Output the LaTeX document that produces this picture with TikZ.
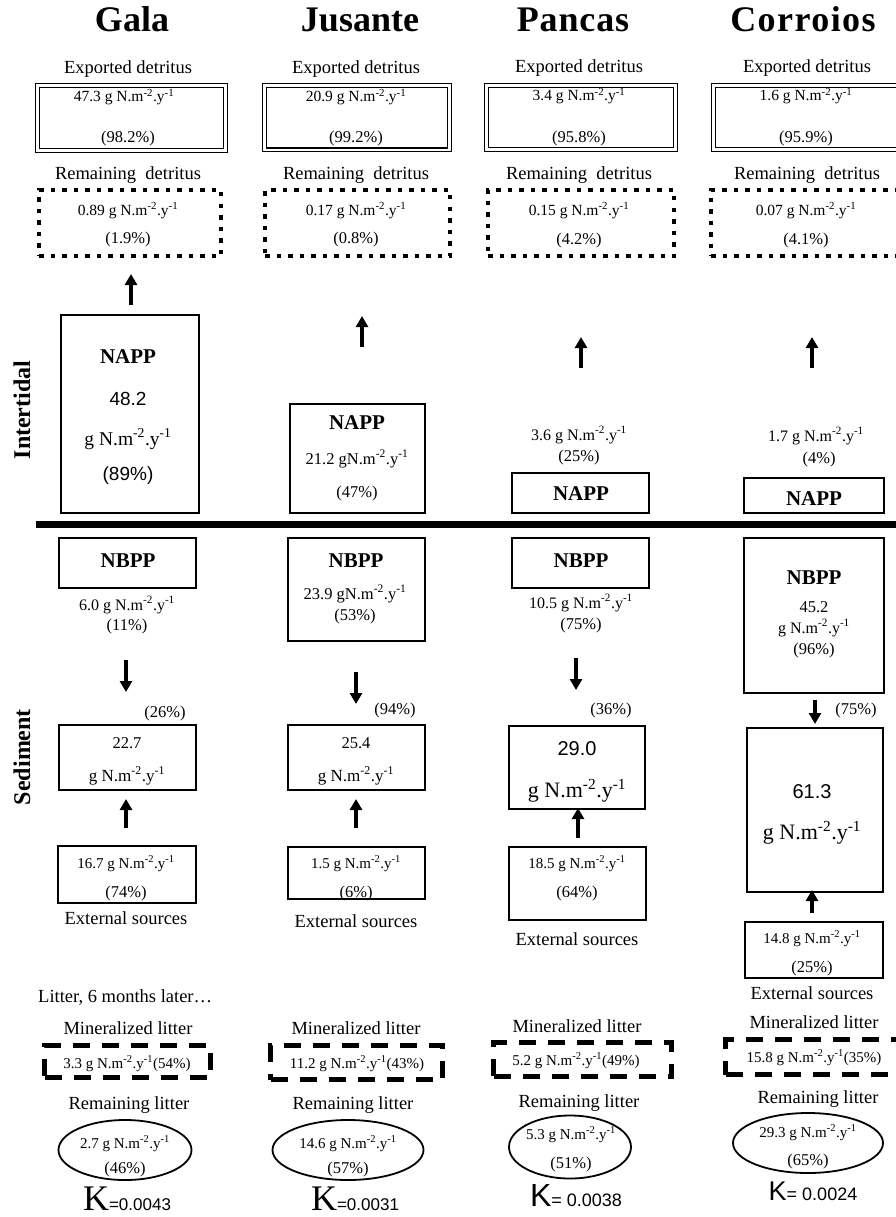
\documentclass[tikz,border=0pt]{standalone}
\usepackage{fontspec}
\setmainfont{Liberation Serif}
\newfontfamily\arialf{Liberation Sans}
\usetikzlibrary{arrows.meta,shapes.geometric}
\newcommand{\fsz}[1]{\fontsize{#1}{#1}\selectfont}
\newcommand{\gN}{g N.m\textsuperscript{-2}.y\textsuperscript{-1}}
\newcommand{\gNc}{gN.m\textsuperscript{-2}.y\textsuperscript{-1}}
\newcommand{\bx}[6]{\node[#6, minimum width={(#4-#2)*1pt}, minimum height={(#5-#3)*1pt}] (#1) at ({(#2+#4)/2},{(#3+#5)/2}) {};}
\tikzset{
  t/.style={anchor=base, inner sep=0pt, font=\fsz{15.5}},
  lab/.style={t, font=\fsz{18.5}},
  pct/.style={t, font=\fsz{16.5}},
  ttl/.style={t, font=\bfseries\fsz{36}},
  bnm/.style={t, font=\bfseries\fsz{21}},
  side/.style={inner sep=0pt, rotate=90, font=\bfseries\fsz{24}},
  plainbox/.style={draw, line width=1.3pt, inner sep=0pt},
  dblbox/.style={draw, line width=1.2pt, double, double distance=2.6pt, inner sep=0pt},
  dotbox/.style={draw, line width=4.5pt, dash pattern=on 4.5pt off 7pt, inner sep=0pt},
  dashbox/.style={draw, line width=5pt, dash pattern=on 17pt off 12pt, inner sep=0pt},
  ellbox/.style={draw, ellipse, line width=1.8pt, inner sep=0pt},
  arr/.style={line width=3.2pt, -{Triangle[width=12pt,length=11pt]}},
}
\begin{document}
\begin{tikzpicture}[x=1pt,y=-1pt]
\useasboundingbox (0,0) rectangle (896,1217);
\clip (0,0) rectangle (896,1217);
\fill[white] (0,0) rectangle (896,1217);

% ---------- titles ----------
\node[ttl] (ga-ttl) at (132,32) {Gala};
\node[ttl] (ju-ttl) at (360,32) {Jusante};
\node[ttl] (pa-ttl) at (573,32) {\addfontfeature{LetterSpace=2.5}Pancas};
\node[ttl] (co-ttl) at (803,32) {\addfontfeature{LetterSpace=4}Corroios};

% ---------- exported detritus ----------
\node[lab] (ga-exl) at (128,74) {Exported detritus};
\node[lab] (ju-exl) at (356,74) {Exported detritus};
\node[lab] (pa-exl) at (579,73) {Exported detritus};
\node[lab] (co-exl) at (807,73) {Exported detritus};
\bx{ga-ex}{37.5}{85.5}{225.5}{150.5}{dblbox}
\bx{ju-ex}{264.5}{85.5}{449.5}{150}{dblbox}
\bx{pa-ex}{486.5}{85.5}{675.5}{149.5}{dblbox}
\bx{co-ex}{713.5}{85.5}{910}{149.5}{dblbox}
\node[t] (ga-exv) at (124,102) {47.3 \gN};
\node[t] (ju-exv) at (356,102) {20.9 \gN};
\node[t] (pa-exv) at (579,101) {3.4 \gN};
\node[t] (co-exv) at (806,101) {1.6 \gN};
\node[pct] (ga-exp) at (128,143) {(98.2\%)};
\node[pct] (ju-exp) at (356,143) {(99.2\%)};
\node[pct] (pa-exp) at (579,143) {(95.8\%)};
\node[pct] (co-exp) at (806,143) {(95.9\%)};

% ---------- remaining detritus ----------
\node[lab] (ga-rdl) at (128,180) {Remaining\ \ detritus};
\node[lab] (ju-rdl) at (356,180) {Remaining\ \ detritus};
\node[lab] (pa-rdl) at (579,180) {Remaining\ \ detritus};
\node[lab] (co-rdl) at (807,180) {Remaining\ \ detritus};
\bx{ga-rd}{39}{190}{221}{256}{dotbox}
\bx{ju-rd}{265}{190}{450}{256}{dotbox}
\bx{pa-rd}{488}{190}{674}{256}{dotbox}
\bx{co-rd}{711}{190}{910}{256}{dotbox}
\node[t] (ga-rdv) at (128,215) {0.89 \gN};
\node[t] (ju-rdv) at (356,215) {0.17 \gN};
\node[t] (pa-rdv) at (579,215) {0.15 \gN};
\node[t] (co-rdv) at (806,215) {0.07 \gN};
\node[pct] (ga-rdp) at (128,243) {(1.9\%)};
\node[pct] (ju-rdp) at (356,243) {(0.8\%)};
\node[pct] (pa-rdp) at (579,244) {(4.2\%)};
\node[pct] (co-rdp) at (806,244) {(4.1\%)};

% ---------- up arrows (NAPP -> detritus) ----------
\coordinate (ga-u1s) at (131,305); \coordinate (ga-u1e) at (131,274);
\coordinate (ju-u1s) at (362,347); \coordinate (ju-u1e) at (362,316);
\coordinate (pa-u1s) at (581,368); \coordinate (pa-u1e) at (581,337);
\coordinate (co-u1s) at (812,368); \coordinate (co-u1e) at (812,337);
\draw[arr] (ga-u1s) -- (ga-u1e);
\draw[arr] (ju-u1s) -- (ju-u1e);
\draw[arr] (pa-u1s) -- (pa-u1e);
\draw[arr] (co-u1s) -- (co-u1e);

% ---------- side labels ----------
\node[side] (intertidal) at (22,410) {Intertidal};
\node[side] (sediment) at (22,757) {Sediment};

% ---------- NAPP ----------
\bx{ga-napp}{61}{315}{199}{513}{plainbox}
\node[bnm] (ga-nappt) at (128,363) {NAPP};
\node[t, font=\arialf\fsz{19}] (ga-nappv) at (128,405) {48.2};
\node[t, font=\fsz{19.5}] (ga-nappu) at (128,445) {\gN};
\node[t, font=\arialf\fsz{19}] (ga-nappp) at (128,480) {(89\%)};

\bx{ju-napp}{290}{404}{425}{513}{plainbox}
\node[bnm] (ju-nappt) at (357,429) {NAPP};
\node[t, font=\fsz{16.5}] (ju-nappv) at (357,464) {21.2 \gNc};
\node[pct] (ju-nappp) at (357,497) {(47\%)};

\node[t, font=\fsz{16}] (pa-nappv) at (579,440) {3.6 \gN};
\node[t, font=\fsz{16.5}] (pa-nappp) at (579,461) {(25\%)};
\bx{pa-napp}{512}{473}{649}{513}{plainbox}
\node[bnm] (pa-nappt) at (581,500) {NAPP};

\node[t, font=\fsz{16}] (co-nappv) at (816,441) {1.7 \gN};
\node[t, font=\fsz{16.5}] (co-nappp) at (819,463) {(4\%)};
\bx{co-napp}{744}{478}{884}{513}{plainbox}
\node[bnm] (co-nappt) at (814,505) {NAPP};

% ---------- divider ----------
\draw[line width=7pt] (36,524) -- (900,524);

% ---------- NBPP ----------
\bx{ga-nbpp}{59}{538}{196}{588}{plainbox}
\node[bnm] (ga-nbppt) at (128,567) {NBPP};
\node[t, font=\fsz{16}] (ga-nbppv) at (127,610) {6.0 \gN};
\node[pct] (ga-nbppp) at (127,630) {(11\%)};

\bx{ju-nbpp}{288}{538}{425}{641}{plainbox}
\node[bnm] (ju-nbppt) at (356,567) {NBPP};
\node[t, font=\fsz{16.5}] (ju-nbppv) at (355,599) {23.9 \gNc};
\node[pct] (ju-nbppp) at (355,620) {(53\%)};

\bx{pa-nbpp}{512}{538}{649}{588}{plainbox}
\node[bnm] (pa-nbppt) at (581,567) {NBPP};
\node[t, font=\fsz{16}] (pa-nbppv) at (581,608) {10.5 \gN};
\node[pct] (pa-nbppp) at (581,629) {(75\%)};

\bx{co-nbpp}{744}{538}{884}{693}{plainbox}
\node[bnm] (co-nbppt) at (814,584) {NBPP};
\node[t, font=\fsz{16.5}] (co-nbppv) at (814,612) {45.2};
\node[t, font=\fsz{16}] (co-nbppu) at (814,633) {\gN};
\node[pct] (co-nbppp) at (814,654) {(96\%)};

% ---------- down arrows ----------
\coordinate (ga-d1s) at (126,660); \coordinate (ga-d1e) at (126,692);
\coordinate (ju-d1s) at (356,672); \coordinate (ju-d1e) at (356,704);
\coordinate (pa-d1s) at (576,658); \coordinate (pa-d1e) at (576,690);
\coordinate (co-d1s) at (815,700); \coordinate (co-d1e) at (815,724);
\draw[arr] (ga-d1s) -- (ga-d1e);
\draw[arr] (ju-d1s) -- (ju-d1e);
\draw[arr] (pa-d1s) -- (pa-d1e);
\draw[arr] (co-d1s) -- (co-d1e);

\node[pct] (ga-dp) at (165,717) {(26\%)};
\node[pct] (ju-dp) at (395,714) {(94\%)};
\node[pct] (pa-dp) at (611,714) {(36\%)};
\node[pct] (co-dp) at (856,714) {(75\%)};

% ---------- sediment pool ----------
\bx{ga-mid}{59}{725}{196}{790}{plainbox}
\node[t, font=\fsz{16.5}] (ga-midv) at (127,748) {22.7};
\node[t, font=\fsz{17}] (ga-midu) at (127,781) {\gN};
\bx{ju-mid}{288}{725}{425}{790}{plainbox}
\node[t, font=\fsz{16.5}] (ju-midv) at (356,748) {25.4};
\node[t, font=\fsz{17}] (ju-midu) at (356,781) {\gN};
\bx{pa-mid}{509}{726}{645}{809}{plainbox}
\node[t, font=\arialf\fsz{20}] (pa-midv) at (577,755) {29.0};
\node[t, font=\fsz{22}] (pa-midu) at (577,797) {\gN};
\bx{co-mid}{747}{728}{883}{892}{plainbox}
\node[t, font=\arialf\fsz{20}] (co-midv) at (812,798) {61.3};
\node[t, font=\fsz{22}] (co-midu) at (812,839) {\gN};

% ---------- up arrows (external -> pool) ----------
\coordinate (ga-u2s) at (126,828); \coordinate (ga-u2e) at (126,799);
\coordinate (ju-u2s) at (356,828); \coordinate (ju-u2e) at (356,799);
\coordinate (pa-u2s) at (578,838); \coordinate (pa-u2e) at (578,808);
\coordinate (co-u2s) at (812,913); \coordinate (co-u2e) at (812,890);
\draw[arr] (ga-u2s) -- (ga-u2e);
\draw[arr] (ju-u2s) -- (ju-u2e);
\draw[arr] (pa-u2s) -- (pa-u2e);
\draw[arr] (co-u2s) -- (co-u2e);

% ---------- external sources ----------
\bx{ga-ext}{58}{846}{196}{903}{plainbox}
\node[t, font=\fsz{15}] (ga-extv) at (126,868) {16.7 \gN};
\node[pct] (ga-extp) at (126,897) {(74\%)};
\node[lab] (ga-extl) at (126,924) {External sources};
\bx{ju-ext}{288}{847}{425}{899}{plainbox}
\node[t, font=\fsz{15}] (ju-extv) at (356,868) {1.5 \gN};
\node[pct] (ju-extp) at (356,897) {(6\%)};
\node[lab] (ju-extl) at (356,927) {External sources};
\bx{pa-ext}{509}{847}{646}{920}{plainbox}
\node[t, font=\fsz{15}] (pa-extv) at (577,868) {18.5 \gN};
\node[pct] (pa-extp) at (577,897) {(64\%)};
\node[lab] (pa-extl) at (577,945) {External sources};
\bx{co-ext}{745}{922}{883}{978}{plainbox}
\node[t, font=\fsz{15}] (co-extv) at (812,943) {14.8 \gN};
\node[pct] (co-extp) at (812,972) {(25\%)};
\node[lab] (co-extl) at (812,999) {External sources};

% ---------- litter ----------
\node[lab, anchor=base west] (litter) at (38,1002) {Litter, 6 months later\ldots};

\node[lab] (ga-mll) at (128,1034) {Mineralized litter};
\node[lab] (ju-mll) at (356,1034) {Mineralized litter};
\node[lab] (pa-mll) at (577,1032) {Mineralized litter};
\node[lab] (co-mll) at (814,1028) {Mineralized litter};
\bx{ga-ml}{44.5}{1045.5}{210.5}{1077.5}{dashbox}
\bx{ju-ml}{270.5}{1045.5}{442.5}{1079.5}{dashbox}
\bx{pa-ml}{493.5}{1042.5}{671.5}{1076.5}{dashbox}
\bx{co-ml}{725.5}{1039.5}{915}{1074.5}{dashbox}
\node[t, font=\fsz{15}] (ga-mlv) at (127,1068) {3.3 \gN(54\%)};
\node[t, font=\fsz{15}] (ju-mlv) at (357,1068) {11.2 \gN(43\%)};
\node[t, font=\fsz{15}] (pa-mlv) at (576,1065) {5.2 \gN(49\%)};
\node[t, font=\fsz{15}] (co-mlv) at (814,1062) {15.8 \gN(35\%)};

\node[lab] (ga-rll) at (129,1109) {Remaining litter};
\node[lab] (ju-rll) at (353,1109) {Remaining litter};
\node[lab] (pa-rll) at (579,1107) {Remaining litter};
\node[lab] (co-rll) at (818,1103) {Remaining litter};
\node[ellbox, minimum width=133pt, minimum height=60pt] (ga-rl) at (125,1150) {};
\node[ellbox, minimum width=151pt, minimum height=60pt] (ju-rl) at (348,1150) {};
\node[ellbox, minimum width=122pt, minimum height=63pt] (pa-rl) at (570,1147) {};
\node[ellbox, minimum width=150pt, minimum height=60pt] (co-rl) at (808,1143) {};
\node[t, font=\fsz{15}] (ga-rlv) at (125,1148) {2.7 \gN};
\node[pct] (ga-rlp) at (125,1173) {(46\%)};
\node[t, font=\fsz{15}] (ju-rlv) at (348,1148) {14.6 \gN};
\node[pct] (ju-rlp) at (348,1173) {(57\%)};
\node[t, font=\fsz{15}] (pa-rlv) at (571,1139) {5.3 \gN};
\node[pct] (pa-rlp) at (571,1168) {(51\%)};
\node[t, font=\fsz{15}] (co-rlv) at (808,1137) {29.3 \gN};
\node[pct] (co-rlp) at (808,1165) {(65\%)};

% ---------- K values ----------
\node[t] (ga-k) at (127,1210) {{\fsz{36}K}{\arialf\fsz{17}=0.0043}};
\node[t] (ju-k) at (355,1210) {{\fsz{36}K}{\arialf\fsz{17}=0.0031}};
\node[t] (pa-k) at (576,1206) {{\arialf\fsz{32}K}{\arialf\fsz{18}= 0.0038}};
\node[t] (co-k) at (813,1200) {{\arialf\fsz{27}K}{\arialf\fsz{18}= 0.0024}};
\end{tikzpicture}
\end{document}
